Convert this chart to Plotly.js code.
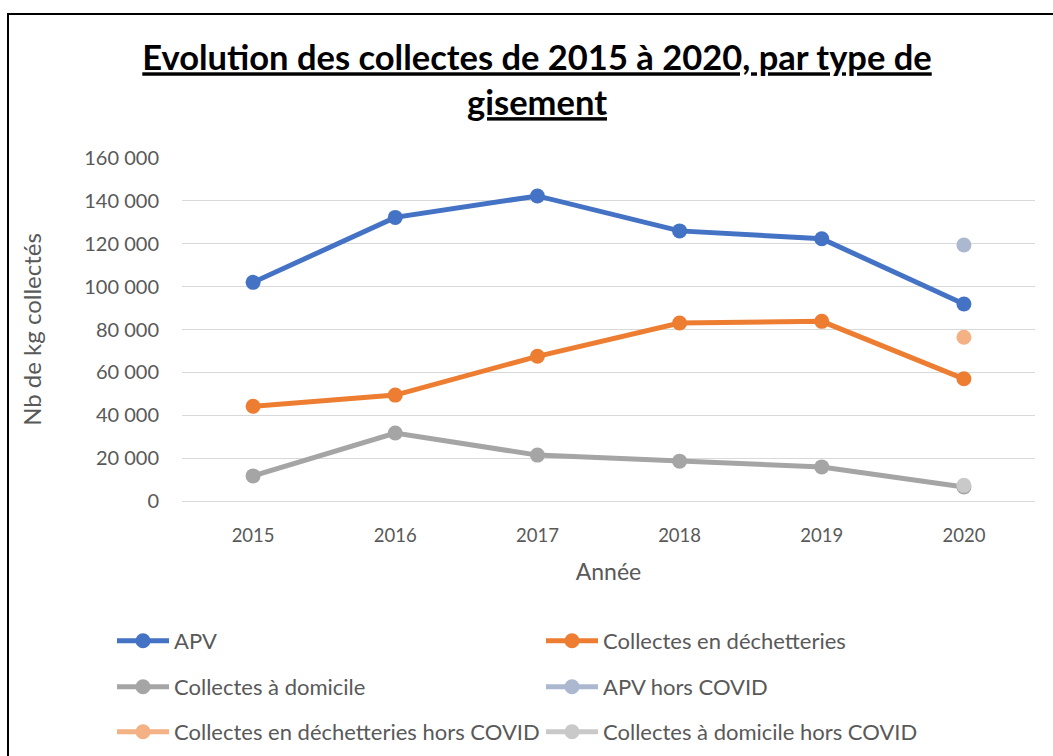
<!DOCTYPE html>
<html><head><meta charset="utf-8">
<script src="https://cdn.plot.ly/plotly-3.0.1.min.js"></script>
<style>html,body{margin:0;padding:0;background:#fff}</style>
</head><body>
<div id="chart" style="width:1053px;height:756px"></div>
<script>
var years = ['2015','2016','2017','2018','2019','2020'];
var apv = [102000, 132300, 142300, 126000, 122300, 91900];
var dechetteries = [44200, 49400, 67500, 83000, 83800, 57000];
var domicile = [11700, 31700, 21400, 18600, 15900, 6500];
var covidYear = ['2020'];
var apvHorsCovid = [119400];
var dechetteriesHorsCovid = [76400];
var domicileHorsCovid = [7300];

var font = 'Lato, "Open Sans", sans-serif';
var txt = '#595959';

function tr(name, x, y, color, legend) {
  return {x: x, y: y, name: name, type: 'scatter', mode: 'lines+markers',
    line: {color: color, width: 5}, marker: {color: color, size: 15},
    legend: legend, hoverinfo: 'x+y'};
}
var data = [
  tr('APV', years, apv, '#4472C4', 'legend'),
  tr('Collectes en déchetteries', years, dechetteries, '#ED7D31', 'legend2'),
  tr('Collectes à domicile', years, domicile, '#A5A5A5', 'legend3'),
  tr('APV hors COVID', covidYear, apvHorsCovid, '#ABB8CF', 'legend4'),
  tr('Collectes en déchetteries hors COVID', covidYear, dechetteriesHorsCovid, '#F4B183', 'legend5'),
  tr('Collectes à domicile hors COVID', covidYear, domicileHorsCovid, '#C9C9C9', 'legend6')
];

function leg(x, y) {
  return {orientation: 'h', xref: 'container', yref: 'container', x: x/1053, y: 1 - y/756,
    xanchor: 'left', yanchor: 'middle', itemwidth: 52,
    font: {family: font, size: 22, color: txt}, bgcolor: 'rgba(0,0,0,0)'};
}

var layout = {
  width: 1053, height: 756,
  margin: {l: 182, r: 18, t: 158, b: 255},
  paper_bgcolor: '#fff', plot_bgcolor: '#fff',
  separators: ', ',
  showlegend: true,
  title: {text: 'Evolution des collectes de 2015 à 2020, par type de<br>gisement',
    font: {family: font, size: 34.5, color: '#000', weight: 'bold', lineposition: 'under'},
    x: 0.51, xref: 'container', xanchor: 'center', y: 0.907, yref: 'container', yanchor: 'middle'},
  xaxis: {type: 'category', categoryorder: 'array', categoryarray: years, range: [-0.5, 5.5],
    showgrid: false, showline: true, linecolor: '#d9d9d9', linewidth: 1,
    ticks: '', ticklabelstandoff: 18,
    tickfont: {family: font, size: 18.5, color: txt},
    title: {text: 'Année', font: {family: font, size: 23, color: txt}, standoff: 18},
    fixedrange: true},
  yaxis: {range: [0, 160000], dtick: 20000, tickformat: ',d',
    showgrid: true, gridcolor: '#d9d9d9', gridwidth: 1, zeroline: false,
    ticks: '', ticklabelstandoff: 22,
    tickfont: {family: font, size: 20, color: txt},
    title: {text: 'Nb de kg collectés', font: {family: font, size: 24, color: txt}, standoff: 35},
    fixedrange: true},
  legend: leg(112, 641),
  legend2: leg(541, 641),
  legend3: leg(112, 687),
  legend4: leg(541, 687),
  legend5: leg(112, 732),
  legend6: leg(541, 732),
  shapes: [{type: 'rect', xref: 'paper', yref: 'paper',
    x0: (8-182)/853, x1: (1070-182)/853, y0: (501-770)/343, y1: 1 + (158-14)/343,
    line: {color: '#000', width: 2}, fillcolor: 'rgba(0,0,0,0)', layer: 'below'}]
};

Plotly.newPlot('chart', data, layout, {displayModeBar: false, staticPlot: true});
</script>
</body></html>
